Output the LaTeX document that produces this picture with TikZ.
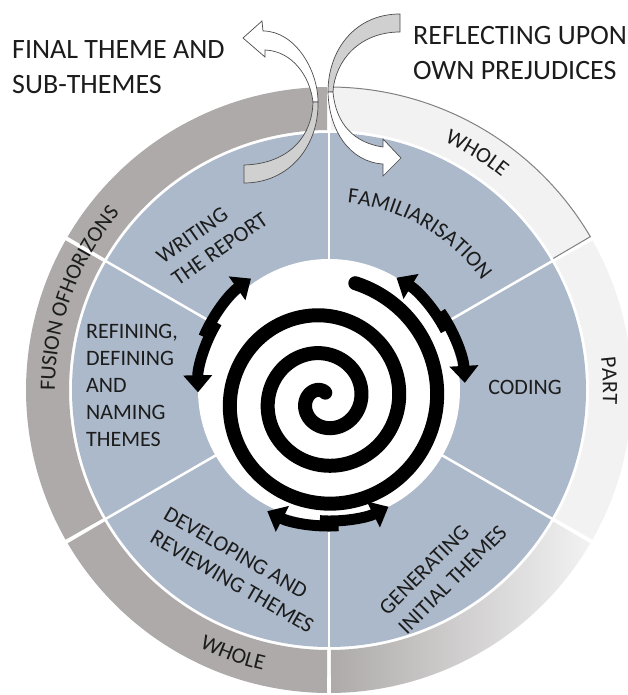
\documentclass[tikz,border=0pt]{standalone}
\usepackage{fontspec}
\setmainfont{Carlito}
\usetikzlibrary{arrows.meta,decorations.text}
\definecolor{ringdark}{HTML}{AEAAAA}
\definecolor{ringlight}{HTML}{F2F2F2}
\definecolor{stageblue}{HTML}{ACB9CA}
\definecolor{foldgray}{HTML}{D0D0D0}
\definecolor{inkgray}{HTML}{1C1C1C}
\newcommand{\stagefont}{\fontsize{22}{27}\selectfont}
\newcommand{\notefont}{\fontsize{28}{35}\selectfont}

\begin{document}
\begin{tikzpicture}[x=1pt,y=1pt,
  stage/.style={font=\stagefont,text=inkgray,inner sep=0pt,align=left},
  note/.style={font=\notefont,text=inkgray,inner sep=0pt,align=left,anchor=north west},
  cycle arrow/.style={line width=11pt,-{Triangle[width=28pt,length=17pt]}},
  fold/.style={draw=black!70,line width=0.7pt},
  ring text/.style={decorate,decoration={text along path,text align=center,
              text color=inkgray,text={|\stagefont|#1}}}]
  \useasboundingbox (-329,-305) rectangle (299,390);

  % outer ring
  \foreach \a/\c in {90/ringdark,150/ringdark,210/ringdark,-30/ringlight}
    \fill[\c] (\a+0.4:260) arc[start angle=\a+0.4,end angle=\a+59.6,radius=260]
      -- (\a+59.6:303) arc[start angle=\a+59.6,end angle=\a+0.4,radius=303] -- cycle;
  \shade[left color=ringdark,right color=ringlight]
    (270.4:260) arc[start angle=270.4,end angle=329.6,radius=260]
    -- (329.6:303) arc[start angle=329.6,end angle=270.4,radius=303] -- cycle;
  \fill[ringlight] (30.4:260) arc[start angle=30.4,end angle=89.6,radius=260]
    -- (89.6:303) arc[start angle=89.6,end angle=30.4,radius=303] -- cycle;
  \draw[black!50,line width=1pt] (30.4:260) -- (30.4:303)
    arc[start angle=30.4,end angle=89.6,radius=303];

  % six stages
  \fill[stageblue] (0,0) circle[radius=257];
  \foreach \a in {30,90,...,330}
    \draw[white,line width=2.5pt] (0,0) -- (\a:258);
  \fill[white] (0,0) circle[radius=131];

  % spiral
  \draw[line width=14pt,line cap=round]
    plot[domain=-1000:75,samples=400,smooth]
    ({-5+(113+38*\x/360)*cos(\x)},{-10+(113+38*\x/360)*sin(\x)});

  % back and forth arrows
  \foreach \m/\s in {31/28,153/28,270/27}{
    \draw[cycle arrow] (\m-4:131) arc[start angle=\m-4,end angle=\m+\s,radius=131];
    \draw[cycle arrow] (\m+4:136) arc[start angle=\m+4,end angle=\m-\s,radius=136];
  }

  \path[ring text=FAMILIARISATION] (100:188) arc[start angle=100,end angle=20,radius=188];
  \node[stage,rotate=35] (report) at (-117,152) {WRITING\\THE REPORT};
  \node[stage,anchor=west] (refine) at (-243,5) {REFINING,\\DEFINING\\AND\\NAMING\\THEMES};
  \node[stage] (coding) at (196,3) {CODING};
  \node[stage,rotate=-30] (review) at (-90,-180) {DEVELOPING AND\\REVIEWING THEMES};
  \node[stage,rotate=45] (generate) at (114,-180) {GENERATING\\INITIAL THEMES};

  \path[ring text=WHOLE] (90:274) arc[start angle=90,end angle=26,radius=274];
  \path[ring text=PART] (34:274) arc[start angle=34,end angle=-30,radius=274];
  \path[ring text=FUSION OFHORIZONS] (192:274) arc[start angle=192,end angle=128,radius=274];
  \path[ring text=WHOLE] (218:288) arc[start angle=218,end angle=282,radius=288];

  % in and out of the circle
  \begin{scope}[shift={(-329,390)},yscale=-1]
    \filldraw[fold,fill=white] (265,50) -- (265,57) -- (243,38) -- (262,21) -- (263,31)
      .. controls (295,31) and (318,70) .. (318,102) -- (313,102)
      .. controls (310,76) and (292,51) .. (265,50) -- cycle;
    \filldraw[fold,fill=foldgray] (318,102) .. controls (319,145) and (290,183) .. (244,183)
      -- (244,165) .. controls (285,164) and (312,140) .. (313,102) -- cycle;
    \filldraw[fold,fill=foldgray] (400,14) .. controls (355,14) and (328,50) .. (328,92)
      -- (333,92) .. controls (335,60) and (360,32) .. (400,32) -- cycle;
    \filldraw[fold,fill=white] (328,92) .. controls (329,131) and (350,162) .. (383,164)
      -- (383,176) -- (401,158) -- (383,139) -- (383,147)
      .. controls (355,143) and (336,125) .. (333,92) -- cycle;
  \end{scope}

  \node[note] (final) at (-317,350) {FINAL THEME AND\\SUB-THEMES};
  \node[note] (reflect) at (84,364) {REFLECTING UPON\\OWN PREJUDICES};
\end{tikzpicture}
\end{document}
